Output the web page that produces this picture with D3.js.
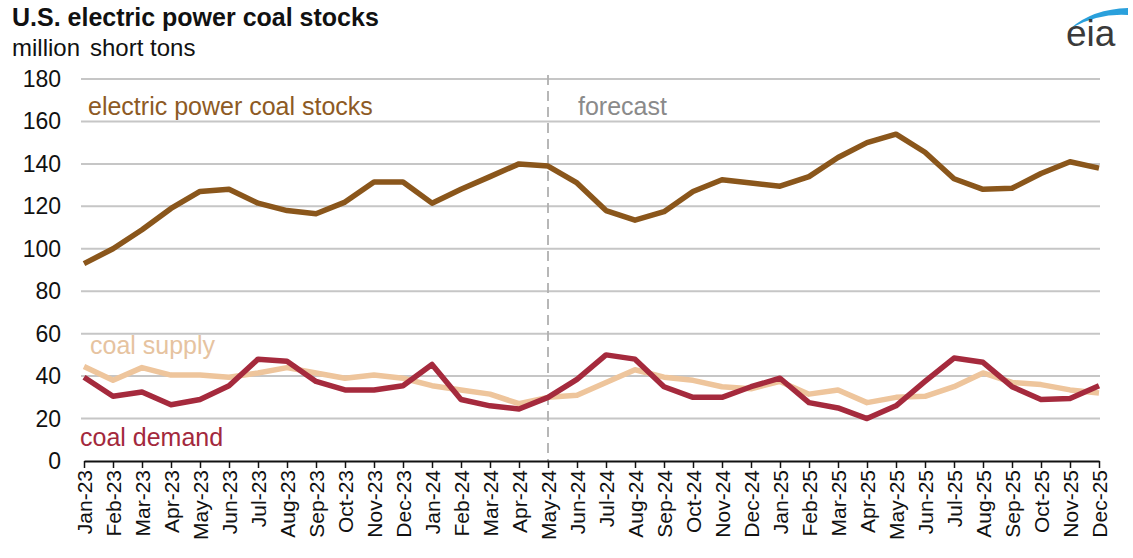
<!DOCTYPE html>
<html><head><meta charset="utf-8">
<script src="https://cdn.jsdelivr.net/npm/d3@7"></script>
<style>body{margin:0;background:#fff;}svg{display:block;font-family:"Liberation Sans",Arial,sans-serif;}</style>
</head><body><svg id="c" width="1133" height="558"></svg>
<script>
const months = ["Jan-23","Feb-23","Mar-23","Apr-23","May-23","Jun-23","Jul-23","Aug-23","Sep-23","Oct-23","Nov-23","Dec-23",
"Jan-24","Feb-24","Mar-24","Apr-24","May-24","Jun-24","Jul-24","Aug-24","Sep-24","Oct-24","Nov-24","Dec-24",
"Jan-25","Feb-25","Mar-25","Apr-25","May-25","Jun-25","Jul-25","Aug-25","Sep-25","Oct-25","Nov-25","Dec-25"];
const stocks = [93,100,109,119,127,128,121.5,118,116.5,122,131.5,131.5,121.5,128,134,140,139,131,118,113.5,117.5,127,132.5,131,129.5,134,143,150,154,145.5,133,128,128.5,135.5,141,138];
const supply = [44.5,38,44,40.5,40.5,39.5,41.5,44,41.5,39,40.5,39,35.5,33.5,31.5,27,30,31,37,43,39.5,38,35,34,37.5,31.5,33.5,27.5,30,30.5,35,41.5,37,36,33.5,32];
const demand = [39.5,30.5,32.5,26.5,29,35.5,48,47,37.5,33.5,33.5,35.5,45.5,29,26,24.5,30,38.5,50,48,35,30,30,35,39,27.5,25,20,26,37.5,48.5,46.5,35,29,29.5,35.5];
const yTicks = [0,20,40,60,80,100,120,140,160,180];
const forecastStart = "May-24";

const svg = d3.select("#c");
const x = d3.scalePoint().domain(months).range([84,1099]);
const y = d3.scaleLinear().domain([0,180]).range([461,79]);

// title
svg.append("text").attr("x",12).attr("y",26).attr("font-size",25).attr("font-weight","bold").attr("fill","#111").text("U.S. electric power coal stocks");
svg.append("text").attr("x",12).attr("y",56).attr("font-size",24).attr("fill","#111").text("million");
svg.append("text").attr("x",90).attr("y",56).attr("font-size",24).attr("fill","#111").text("short tons");

// eia logo
const logo = svg.append("g");
logo.append("path").attr("d","M1071,28 Q1093,9 1128,8 L1128,15 Q1099,13 1071,28Z").attr("fill","#2aa0dc");
logo.append("text").attr("x",1066).attr("y",46).attr("font-size",37).attr("fill","#3a3a3a").text("eia");

// gridlines
svg.append("g").selectAll("line").data(yTicks.filter(d=>d>0)).join("line")
  .attr("x1",81).attr("x2",1100).attr("y1",d=>y(d)).attr("y2",d=>y(d))
  .attr("stroke","#c6c6c6").attr("stroke-width",2);

// y labels
svg.append("g").selectAll("text").data(yTicks).join("text")
  .attr("x",61).attr("y",d=>y(d)+8).attr("text-anchor","end").attr("font-size",23).attr("fill","#111").text(d=>d);

// forecast line
svg.append("line").attr("x1",x(forecastStart)).attr("x2",x(forecastStart)).attr("y1",75).attr("y2",461)
  .attr("stroke","#b0b0b0").attr("stroke-width",1.8).attr("stroke-dasharray","10,6");

// x axis
const xAxis = d3.axisBottom(x).tickSize(7).tickSizeOuter(0);
const gx = svg.append("g").attr("transform","translate(0,461)").call(xAxis);
gx.select(".domain").attr("stroke","#111").attr("stroke-width",2);
gx.selectAll(".tick line").attr("stroke","#111").attr("stroke-width",1.5);
gx.selectAll(".tick text").attr("font-size",21).attr("fill","#111")
  .attr("font-family","'Liberation Sans',Arial,sans-serif")
  .attr("transform","rotate(-90)").attr("text-anchor","end").attr("x",-9).attr("y",0).attr("dy","0.36em");

// lines
const line = d3.line().x((d,i)=>x(months[i])).y(d=>y(d));
svg.append("path").datum(supply).attr("d",line).attr("fill","none").attr("stroke","#eec59c").attr("stroke-width",5.5).attr("stroke-linejoin","round");
svg.append("path").datum(demand).attr("d",line).attr("fill","none").attr("stroke","#a52a3d").attr("stroke-width",5.5).attr("stroke-linejoin","round");
svg.append("path").datum(stocks).attr("d",line).attr("fill","none").attr("stroke","#8a561b").attr("stroke-width",5.5).attr("stroke-linejoin","round");

// labels
svg.append("text").attr("x",88).attr("y",115).attr("font-size",25).attr("fill","#8d5a24").text("electric power coal stocks");
svg.append("text").attr("x",578).attr("y",115).attr("font-size",25).attr("fill","#8a8a8a").text("forecast");
svg.append("text").attr("x",90).attr("y",354).attr("font-size",25).attr("fill","#e6c3a0").text("coal supply");
svg.append("text").attr("x",80).attr("y",446).attr("font-size",25).attr("fill","#a3293d").text("coal demand");
</script></body></html>
